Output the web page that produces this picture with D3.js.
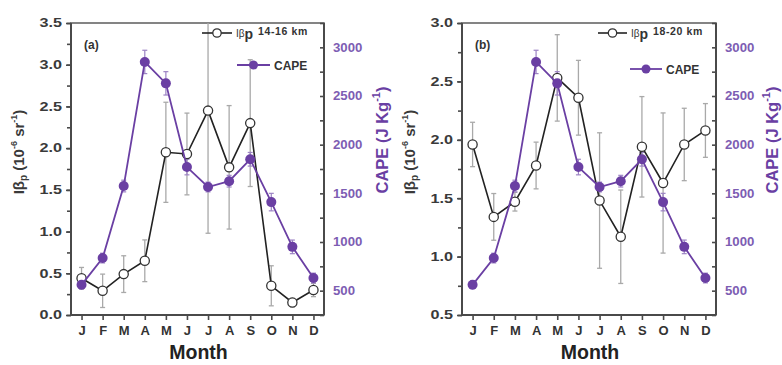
<!DOCTYPE html>
<html>
<head>
<meta charset="utf-8">
<script src="https://cdn.jsdelivr.net/npm/d3@7"></script>
<style>
  body { margin: 0; background: #fff; }
  svg { display: block; font-family: "Liberation Sans", Arial, sans-serif; }
</style>
</head>
<body>
<svg id="chart" width="782" height="365"></svg>
<script>
// Monthly categories
const months = ["J", "F", "M", "A", "M", "J", "J", "A", "S", "O", "N", "D"];

// CAPE (J kg^-1), shared by both panels
const capeValues = [560, 835, 1575, 2850, 2630, 1770, 1565, 1625, 1850, 1410, 950, 630];
const capeErr    = [40, 50, 60, 120, 120, 80, 50, 60, 70, 90, 70, 50];

// Iβp (10^-6 sr^-1), 14-16 km
const ibpLow    = [0.44, 0.29, 0.49, 0.65, 1.95, 1.93, 2.45, 1.77, 2.30, 0.35, 0.15, 0.30];
const ibpLowErr = [0.13, 0.20, 0.22, 0.25, 0.60, 0.49, 1.47, 0.74, 0.76, 0.24, 0.05, 0.08];

// Iβp (10^-6 sr^-1), 18-20 km
const ibpHigh    = [1.96, 1.34, 1.47, 1.78, 2.53, 2.36, 1.48, 1.17, 1.94, 1.63, 1.96, 2.08];
const ibpHighErr = [0.19, 0.20, 0.08, 0.20, 0.37, 0.32, 0.58, 0.40, 0.43, 0.60, 0.31, 0.23];

// Tick labels
const leftTicksA = [0.0, 0.5, 1.0, 1.5, 2.0, 2.5, 3.0, 3.5];
const leftTicksB = [0.5, 1.0, 1.5, 2.0, 2.5, 3.0];
const capeTicks  = [500, 1000, 1500, 2000, 2500, 3000];

const PURPLE = "#6a3fa3";
const PURPLE_TXT = "#7d5db3";
const AXIS = "#4a4a4a";

const svg = d3.select("#chart");

function drawPanel(cfg) {
  const { x0, x1, y0, y1, yDomain, leftTicks, ibp, ibpErr, tag, range, legend, ids, rightTitleX } = cfg;
  const g = svg.append("g");

  const x = d3.scaleLinear().domain([0.5, 12.5]).range([x0, x1]);
  const y = d3.scaleLinear().domain(yDomain).range([y1, y0]);
  const yc = d3.scaleLinear().domain([250, 3250]).range([y1, y0]);

  // clip for marks
  g.append("clipPath").attr("id", ids)
    .append("rect").attr("x", x0).attr("y", y0).attr("width", x1 - x0).attr("height", y1 - y0);

  // frame
  g.append("rect").attr("x", x0).attr("y", y0).attr("width", x1 - x0).attr("height", y1 - y0)
    .attr("fill", "none").attr("stroke", "#666").attr("stroke-width", 1.6);

  // left axis
  const minorLeft = d3.range(yDomain[0], yDomain[1] + 1e-9, 0.25);
  const la = g.append("g").attr("transform", `translate(${x0},0)`)
    .call(d3.axisLeft(y).tickValues(minorLeft).tickSize(4).tickFormat(""));
  la.select(".domain").remove();
  la.selectAll("line").attr("stroke", AXIS).attr("stroke-width", 1.6);
  const laL = g.append("g").attr("transform", `translate(${x0},0)`)
    .call(d3.axisLeft(y).tickValues(leftTicks).tickSize(5).tickPadding(4).tickFormat(d3.format(".1f")));
  laL.select(".domain").remove();
  laL.selectAll("line").attr("stroke", AXIS).attr("stroke-width", 1.6);
  laL.selectAll("text").attr("font-size", 12).attr("font-weight", "bold").attr("fill", "#3a3a3a")
    .attr("x", -9 / 1.35).attr("transform", "scale(1.35,1)");

  // right axis (CAPE), ticks inward
  const ra = g.append("g").attr("transform", `translate(${x1},0)`)
    .call(d3.axisLeft(yc).tickValues(d3.range(250, 3251, 250)).tickSize(4).tickFormat(""));
  ra.select(".domain").remove();
  ra.selectAll("line").attr("stroke", AXIS).attr("stroke-width", 1.6);
  const raL = g.append("g").attr("transform", `translate(${x1},0)`)
    .call(d3.axisRight(yc).tickValues(capeTicks).tickSize(0).tickPadding(9).tickFormat(d3.format("d")));
  raL.select(".domain").remove();
  raL.selectAll("text").attr("font-size", 12).attr("font-weight", "bold").attr("fill", PURPLE_TXT)
    .attr("x", 9 / 1.1).attr("transform", "scale(1.1,1)");

  // bottom axis
  const ba = g.append("g").attr("transform", `translate(0,${y1})`)
    .call(d3.axisBottom(x).tickValues(d3.range(1, 13)).tickSize(5).tickPadding(6)
      .tickFormat(i => months[i - 1]));
  ba.select(".domain").remove();
  ba.selectAll("line").attr("stroke", AXIS).attr("stroke-width", 1.6);
  ba.selectAll("text").attr("font-size", 13).attr("font-weight", "bold").attr("fill", "#333");

  // axis lines on top of frame
  g.append("line").attr("x1", x0).attr("x2", x0).attr("y1", y0).attr("y2", y1)
    .attr("stroke", AXIS).attr("stroke-width", 2);
  g.append("line").attr("x1", x0).attr("x2", x1).attr("y1", y1).attr("y2", y1)
    .attr("stroke", AXIS).attr("stroke-width", 2);
  g.append("line").attr("x1", x1).attr("x2", x1).attr("y1", y0).attr("y2", y1)
    .attr("stroke", AXIS).attr("stroke-width", 2);

  const marks = g.append("g").attr("clip-path", `url(#${ids})`);

  // Iβp error bars
  const eb = marks.append("g").attr("stroke", "#a9a9a9").attr("stroke-width", 1.3);
  ibp.forEach((v, i) => {
    const cx = x(i + 1);
    eb.append("line").attr("x1", cx).attr("x2", cx).attr("y1", y(v - ibpErr[i])).attr("y2", y(v + ibpErr[i]));
    [v - ibpErr[i], v + ibpErr[i]].forEach(e =>
      eb.append("line").attr("x1", cx - 2.5).attr("x2", cx + 2.5).attr("y1", y(e)).attr("y2", y(e)));
  });

  // CAPE error bars
  const ec = marks.append("g").attr("stroke", "#9c83c4").attr("stroke-width", 1.2);
  capeValues.forEach((v, i) => {
    const cx = x(i + 1);
    ec.append("line").attr("x1", cx).attr("x2", cx).attr("y1", yc(v - capeErr[i])).attr("y2", yc(v + capeErr[i]));
    [v - capeErr[i], v + capeErr[i]].forEach(e =>
      ec.append("line").attr("x1", cx - 2.5).attr("x2", cx + 2.5).attr("y1", yc(e)).attr("y2", yc(e)));
  });

  // Iβp line and open markers
  marks.append("path").datum(ibp)
    .attr("d", d3.line().x((d, i) => x(i + 1)).y(d => y(d)))
    .attr("fill", "none").attr("stroke", "#222").attr("stroke-width", 1.6);
  marks.selectAll(".ibp").data(ibp).join("circle")
    .attr("cx", (d, i) => x(i + 1)).attr("cy", d => y(d)).attr("r", 4.6)
    .attr("fill", "#fff").attr("stroke", "#333").attr("stroke-width", 1.3);

  // CAPE line and filled markers
  marks.append("path").datum(capeValues)
    .attr("d", d3.line().x((d, i) => x(i + 1)).y(d => yc(d)))
    .attr("fill", "none").attr("stroke", PURPLE).attr("stroke-width", 1.8);
  marks.selectAll(".cape").data(capeValues).join("circle")
    .attr("cx", (d, i) => x(i + 1)).attr("cy", d => yc(d)).attr("r", 5)
    .attr("fill", PURPLE);

  // panel tag
  g.append("text").attr("x", x0 + 13).attr("y", y0 + 26).attr("font-size", 12)
    .attr("font-weight", "bold").attr("fill", "#333").text(tag);

  // legend
  const L = legend;
  g.append("line").attr("x1", L.ax1).attr("x2", L.ax2).attr("y1", L.ay).attr("y2", L.ay)
    .attr("stroke", "#222").attr("stroke-width", 1.6);
  g.append("circle").attr("cx", (L.ax1 + L.ax2) / 2).attr("cy", L.ay).attr("r", 4.2)
    .attr("fill", "#fff").attr("stroke", "#333").attr("stroke-width", 1.3);
  const t1 = g.append("text").attr("x", L.ax2 + 4).attr("y", L.ay + 4).attr("fill", "#333")
    .attr("font-weight", "bold");
  t1.append("tspan").attr("font-size", 10).attr("font-weight", "normal").text("Iβ");
  t1.append("tspan").attr("font-size", 14).attr("dy", 2).text("p");
  t1.append("tspan").attr("font-size", 10.5).attr("letter-spacing", 0.6).attr("dy", -4).attr("dx", 5).text(range);

  g.append("line").attr("x1", L.bx1).attr("x2", L.bx2).attr("y1", L.by).attr("y2", L.by)
    .attr("stroke", PURPLE).attr("stroke-width", 1.8);
  g.append("circle").attr("cx", (L.bx1 + L.bx2) / 2).attr("cy", L.by).attr("r", 4.5).attr("fill", PURPLE);
  g.append("text").attr("x", L.bx2 + 4).attr("y", L.by + 4.5).attr("font-size", 12)
    .attr("font-weight", "bold").attr("fill", "#333").text("CAPE");

  // left title
  const lt = g.append("text").attr("transform", `translate(${x0 - 47},${(y0 + y1) / 2 - 17}) rotate(-90)`)
    .attr("text-anchor", "middle").attr("font-size", 15).attr("font-weight", "bold").attr("fill", "#3a3a3a");
  lt.append("tspan").text("Iβ");
  lt.append("tspan").attr("font-size", 10).attr("dy", 3).text("p");
  lt.append("tspan").attr("dy", -3).text(" (10");
  lt.append("tspan").attr("font-size", 9).attr("dy", -7).text("-6");
  lt.append("tspan").attr("dy", 7).text(" sr");
  lt.append("tspan").attr("font-size", 9).attr("dy", -7).text("-1");
  lt.append("tspan").attr("dy", 7).text(")");

  // right title
  const rt = g.append("text").attr("transform", `translate(${rightTitleX},${(y0 + y1) / 2 - 29}) rotate(-90)`)
    .attr("text-anchor", "middle").attr("font-size", 16.5).attr("font-weight", "bold").attr("fill", PURPLE);
  rt.append("tspan").text("CAPE (J Kg");
  rt.append("tspan").attr("font-size", 11).attr("dy", -8).text("-1");
  rt.append("tspan").attr("dy", 8).text(")");

  // x title
  g.append("text").attr("x", (x0 + x1) / 2 + 1).attr("y", 359).attr("text-anchor", "middle")
    .attr("font-size", 19.5).attr("font-weight", "bold").attr("fill", "#222").text("Month");
}

drawPanel({
  x0: 71, x1: 324, y0: 23, y1: 315, yDomain: [0, 3.5], leftTicks: leftTicksA,
  ibp: ibpLow, ibpErr: ibpLowErr, tag: "(a)", range: "14-16 km", ids: "clipA", rightTitleX: 388,
  legend: { ax1: 202, ax2: 232, ay: 33, bx1: 237, bx2: 270, by: 65 }
});
drawPanel({
  x0: 462, x1: 716, y0: 23, y1: 315, yDomain: [0.5, 3.0], leftTicks: leftTicksB,
  ibp: ibpHigh, ibpErr: ibpHighErr, tag: "(b)", range: "18-20 km", ids: "clipB", rightTitleX: 778,
  legend: { ax1: 598, ax2: 627, ay: 33, bx1: 630, bx2: 662, by: 69 }
});
</script>
</body>
</html>
